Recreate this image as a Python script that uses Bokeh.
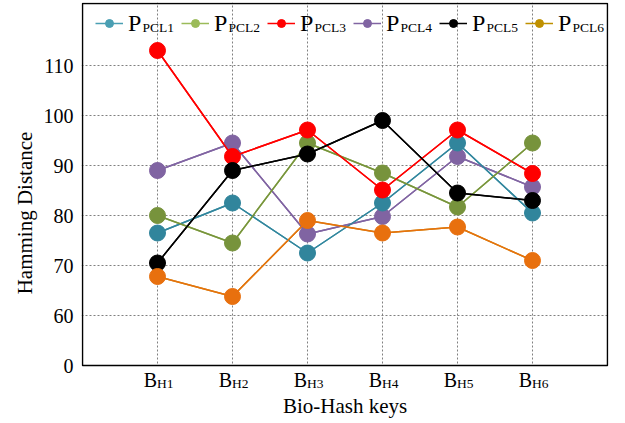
from bokeh.plotting import figure
from bokeh.models import (Range1d, FixedTicker, Label, Legend, LegendItem,
                          ColumnDataSource, BoxAnnotation)
from bokeh.embed import file_html
from bokeh.resources import INLINE

# ---- data ----
key_subs = ["H1", "H2", "H3", "H4", "H5", "H6"]
x_pos = [1, 2, 3, 4, 5, 6]
pcl1 = [76.5, 82.5, 72.5, 82.5, 94.5, 80.5]
pcl2 = [80.0, 74.5, 94.5, 88.5, 81.7, 94.5]
pcl3 = [113.0, 91.8, 97.1, 85.1, 97.1, 88.4]
pcl4 = [89.0, 94.5, 76.3, 79.8, 91.8, 85.7]
pcl5 = [70.5, 89.0, 92.3, 99.0, 84.5, 83.0]
pcl_orange = [67.8, 63.8, 79.0, 76.5, 77.7, 71.0]
legend_subs = ["PCL1", "PCL2", "PCL3", "PCL4", "PCL5", "PCL6"]
legend_colors = ["#4a9fb3", "#9bbb59", "#ff0000", "#8064a2", "#000000", "#bf9000"]
y_ticks = [50, 60, 70, 80, 90, 100, 110]
y_tick_labels = ["0", "60", "70", "80", "90", "100", "110"]
x_title = "Bio-Hash keys"
y_title = "Hamming Distance"

FONT = "Liberation Serif"

# axis box limits (data units)
X0, X1 = 0, 7
Y0, Y1 = 50, 122.4
PX_X, PX_Y = 75.0, 5.0          # pixels per data unit
BELOW_PX = 58                    # label strip below the box, in pixels

p = figure(width=617, height=423,
           x_range=Range1d(X0 - 1 / PX_X, X1 + 1 / PX_X),
           y_range=Range1d(Y0 - BELOW_PX / PX_Y, Y1 + 1 / PX_Y),
           output_backend="svg", toolbar_location=None,
           min_border_left=81, min_border_right=9, min_border_top=2, min_border_bottom=0)
p.background_fill_color = "white"
p.border_fill_color = "white"
p.outline_line_color = None
p.xaxis.visible = False

p.yaxis.ticker = FixedTicker(ticks=y_ticks)
p.yaxis.bounds = (Y0 - 1.5, Y1)
p.yaxis.major_label_overrides = {t: l for t, l in zip(y_ticks, y_tick_labels)}
p.yaxis.major_label_text_font = FONT
p.yaxis.major_label_text_font_size = "20px"
p.yaxis.major_label_text_color = "black"
p.yaxis.major_label_standoff = 8
p.yaxis.axis_label = y_title
p.yaxis.axis_label_text_font = FONT
p.yaxis.axis_label_text_font_size = "21px"
p.yaxis.axis_label_text_font_style = "normal"
p.yaxis.axis_label_text_color = "black"
p.yaxis.axis_label_standoff = 4
p.yaxis.axis_line_color = None
p.yaxis.major_tick_in = 0
p.yaxis.major_tick_out = 0
p.yaxis.minor_tick_in = 0
p.yaxis.minor_tick_out = 0

# grid
p.xgrid.ticker = FixedTicker(ticks=x_pos)
p.ygrid.ticker = FixedTicker(ticks=y_ticks[1:])
for g in (p.xgrid, p.ygrid):
    g.grid_line_color = "#808080"
    g.grid_line_dash = "2 2"
    g.grid_line_width = 1

# legend renderers (drawn first, hidden beneath the series)
legend_data = [pcl1, pcl2, pcl3, pcl4, pcl5, pcl_orange]
items = []
for sub, col, ys in zip(legend_subs, legend_colors, legend_data):
    src = ColumnDataSource(dict(x=x_pos, y=ys))
    r1 = p.line("x", "y", source=src, line_color=col, line_width=1.5)
    r2 = p.scatter("x", "y", source=src, size=8, fill_color=col, line_color=col)
    items.append(LegendItem(label="P", renderers=[r1, r2]))

# series (draw order matters for overlaps)
series = [
    (pcl4, "#8064a2"),
    (pcl1, "#31859c"),
    (pcl2, "#77933c"),
    (pcl3, "#ff0000"),
    (pcl5, "#000000"),
    (pcl_orange, "#e8700e"),
]
for ys, col in series:
    src = ColumnDataSource(dict(x=x_pos, y=ys))
    p.line("x", "y", source=src, line_color=col, line_width=1.5)
    p.scatter("x", "y", source=src, size=16, fill_color=col, line_color=col)

# white strip below the axis box (hides grid there), then the box outline
p.add_layout(BoxAnnotation(top=Y0, fill_color="white", fill_alpha=1.0, line_alpha=0))
p.add_layout(BoxAnnotation(left=X0, right=X1, bottom=Y0, top=Y1, fill_alpha=0,
                           line_color="black", line_width=1.5, line_alpha=1.0))

# legend
FRAME_H = 421
LEG_X = 14
GLYPH_W = 28
STANDOFF = 5
LABEL_MIN_W = 20
SPACING = 33
legend = Legend(items=items, orientation="horizontal", location=(LEG_X, FRAME_H - 36),
                padding=0, margin=0, spacing=SPACING, glyph_width=GLYPH_W, glyph_height=20,
                label_height=30, label_width=LABEL_MIN_W, label_standoff=STANDOFF,
                label_text_font=FONT, label_text_font_size="24px", label_text_color="black",
                border_line_color=None, background_fill_alpha=0)
p.add_layout(legend)

P_W = 14
pitch = GLYPH_W + STANDOFF + LABEL_MIN_W + SPACING
for i, sub in enumerate(legend_subs):
    p.add_layout(Label(x=LEG_X + GLYPH_W + STANDOFF + P_W + i * pitch, y=FRAME_H - 25,
                       x_units="screen", y_units="screen", text=sub,
                       text_align="left", text_baseline="alphabetic",
                       text_font=FONT, text_font_size="13.5px", text_color="black"))

# category labels B with subscript, and x title
for xi, sub in zip(x_pos, key_subs):
    p.add_layout(Label(x=xi, y=Y0, x_offset=-0.5, y_offset=-14, text="B",
                       text_align="right", text_baseline="alphabetic",
                       text_font=FONT, text_font_size="20px", text_color="black"))
    p.add_layout(Label(x=xi, y=Y0, x_offset=-0.5, y_offset=-18, text=sub,
                       text_align="left", text_baseline="alphabetic",
                       text_font=FONT, text_font_size="13.5px", text_color="black"))
p.add_layout(Label(x=(X0 + X1) / 2, y=Y0, y_offset=-40.5, text=x_title,
                   text_align="center", text_baseline="alphabetic",
                   text_font=FONT, text_font_size="21px", text_color="black"))

open("out.html", "w").write(file_html(p, INLINE))
